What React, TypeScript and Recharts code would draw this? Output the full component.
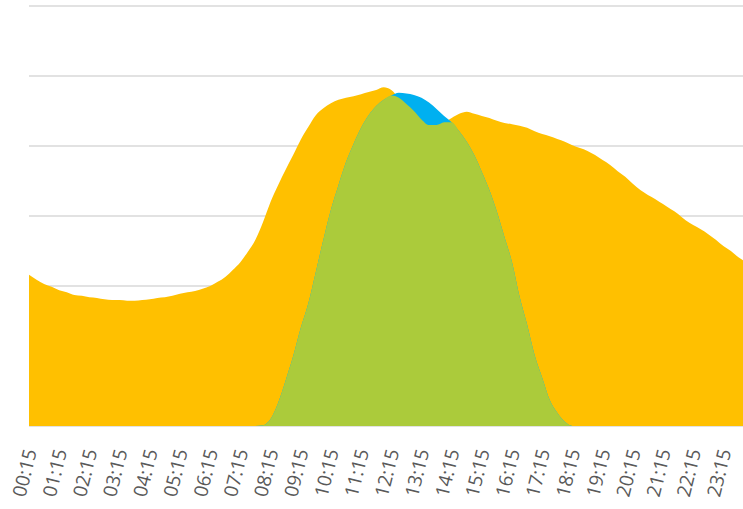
import React from 'react';
import { AreaChart, Area, XAxis, YAxis, CartesianGrid } from 'recharts';

// quarter-hour slots, 00:15 .. 24:00
const times = [
  '00:15', '00:30', '00:45', '01:00', '01:15', '01:30', '01:45', '02:00',
  '02:15', '02:30', '02:45', '03:00', '03:15', '03:30', '03:45', '04:00',
  '04:15', '04:30', '04:45', '05:00', '05:15', '05:30', '05:45', '06:00',
  '06:15', '06:30', '06:45', '07:00', '07:15', '07:30', '07:45', '08:00',
  '08:15', '08:30', '08:45', '09:00', '09:15', '09:30', '09:45', '10:00',
  '10:15', '10:30', '10:45', '11:00', '11:15', '11:30', '11:45', '12:00',
  '12:15', '12:30', '12:45', '13:00', '13:15', '13:30', '13:45', '14:00',
  '14:15', '14:30', '14:45', '15:00', '15:15', '15:30', '15:45', '16:00',
  '16:15', '16:30', '16:45', '17:00', '17:15', '17:30', '17:45', '18:00',
  '18:15', '18:30', '18:45', '19:00', '19:15', '19:30', '19:45', '20:00',
  '20:15', '20:30', '20:45', '21:00', '21:15', '21:30', '21:45', '22:00',
  '22:15', '22:30', '22:45', '23:00', '23:15', '23:30', '23:45', '24:00',
];

const consumption = [
  2.16, 2.09, 2.03, 1.99, 1.94, 1.91, 1.87, 1.86,
  1.84, 1.83, 1.81, 1.80, 1.80, 1.79, 1.79, 1.80,
  1.81, 1.83, 1.84, 1.86, 1.89, 1.91, 1.93, 1.96,
  2.00, 2.06, 2.13, 2.23, 2.34, 2.49, 2.66, 2.91,
  3.20, 3.44, 3.66, 3.87, 4.09, 4.27, 4.44, 4.54,
  4.61, 4.66, 4.69, 4.71, 4.74, 4.77, 4.80, 4.84,
  4.80, 4.69, 4.60, 4.50, 4.38, 4.30, 4.30, 4.34,
  4.40, 4.46, 4.49, 4.46, 4.43, 4.40, 4.36, 4.33,
  4.31, 4.29, 4.26, 4.21, 4.17, 4.14, 4.10, 4.06,
  4.01, 3.97, 3.93, 3.87, 3.80, 3.73, 3.64, 3.56,
  3.46, 3.37, 3.30, 3.24, 3.17, 3.10, 3.03, 2.94,
  2.87, 2.81, 2.74, 2.66, 2.57, 2.50, 2.41, 2.34,
];

const solar = [
  0, 0, 0, 0, 0, 0, 0, 0,
  0, 0, 0, 0, 0, 0, 0, 0,
  0, 0, 0, 0, 0, 0, 0, 0,
  0, 0, 0, 0, 0, 0, 0, 0.01,
  0.1, 0.33, 0.65, 1.0, 1.4, 1.75, 2.2, 2.66,
  3.09, 3.44, 3.77, 4.03, 4.26, 4.44, 4.57, 4.66,
  4.72, 4.76, 4.75, 4.73, 4.69, 4.62, 4.53, 4.43,
  4.34, 4.21, 4.06, 3.87, 3.63, 3.37, 3.06, 2.7,
  2.34, 1.85, 1.45, 1.01, 0.69, 0.37, 0.19, 0.06,
  0, 0, 0, 0, 0, 0, 0, 0,
  0, 0, 0, 0, 0, 0, 0, 0,
  0, 0, 0, 0, 0, 0, 0, 0,
];

// solar used on site (lower of the two)
const selfUse = [
  0, 0, 0, 0, 0, 0, 0, 0,
  0, 0, 0, 0, 0, 0, 0, 0,
  0, 0, 0, 0, 0, 0, 0, 0,
  0, 0, 0, 0, 0, 0, 0, 0.01,
  0.1, 0.33, 0.65, 1.0, 1.4, 1.75, 2.2, 2.66,
  3.09, 3.44, 3.77, 4.03, 4.26, 4.44, 4.57, 4.66,
  4.72, 4.69, 4.60, 4.50, 4.38, 4.30, 4.30, 4.34,
  4.34, 4.21, 4.06, 3.87, 3.63, 3.37, 3.06, 2.7,
  2.34, 1.85, 1.45, 1.01, 0.69, 0.37, 0.19, 0.06,
  0, 0, 0, 0, 0, 0, 0, 0,
  0, 0, 0, 0, 0, 0, 0, 0,
  0, 0, 0, 0, 0, 0, 0, 0,
];

const yTicks = [0, 1, 2, 3, 4, 5, 6];

const data = times.map((t, i) => ({
  t,
  consumption: consumption[i],
  solar: solar[i],
  selfUse: selfUse[i],
}));

const TimeTick = (props: any) => {
  const { x, y, payload } = props;
  return (
    <text
      x={0}
      y={0}
      transform={`translate(${x + 8},${y + 17}) rotate(-76)`}
      textAnchor="end"
      fill="#595959"
      fontSize={19}
      fontFamily="'Open Sans', sans-serif"
    >
      {payload.value}
    </text>
  );
};

export default function App() {
  return (
    <div style={{ position: 'absolute', left: 0, top: 0, width: 743, height: 509, overflow: 'hidden', background: '#fff' }}>
      <AreaChart width={750} height={509} data={data} margin={{ top: 6, right: 4, left: 29, bottom: 0 }}>
        <CartesianGrid vertical={false} stroke="#d9d9d9" strokeWidth={1.5} />
        <XAxis dataKey="t" interval={3} height={83} axisLine={false} tickLine={false} tick={<TimeTick />} />
        <YAxis hide domain={[0, 6]} ticks={yTicks} />
        <Area type="monotone" dataKey="consumption" stroke="none" fill="#FFC000" fillOpacity={1} dot={false} activeDot={false} isAnimationActive={false} />
        <Area type="monotone" dataKey="solar" stroke="none" fill="#00B0F0" fillOpacity={1} dot={false} activeDot={false} isAnimationActive={false} />
        <Area type="monotone" dataKey="selfUse" stroke="none" fill="#ABCB3B" fillOpacity={1} dot={false} activeDot={false} isAnimationActive={false} />
      </AreaChart>
    </div>
  );
}
